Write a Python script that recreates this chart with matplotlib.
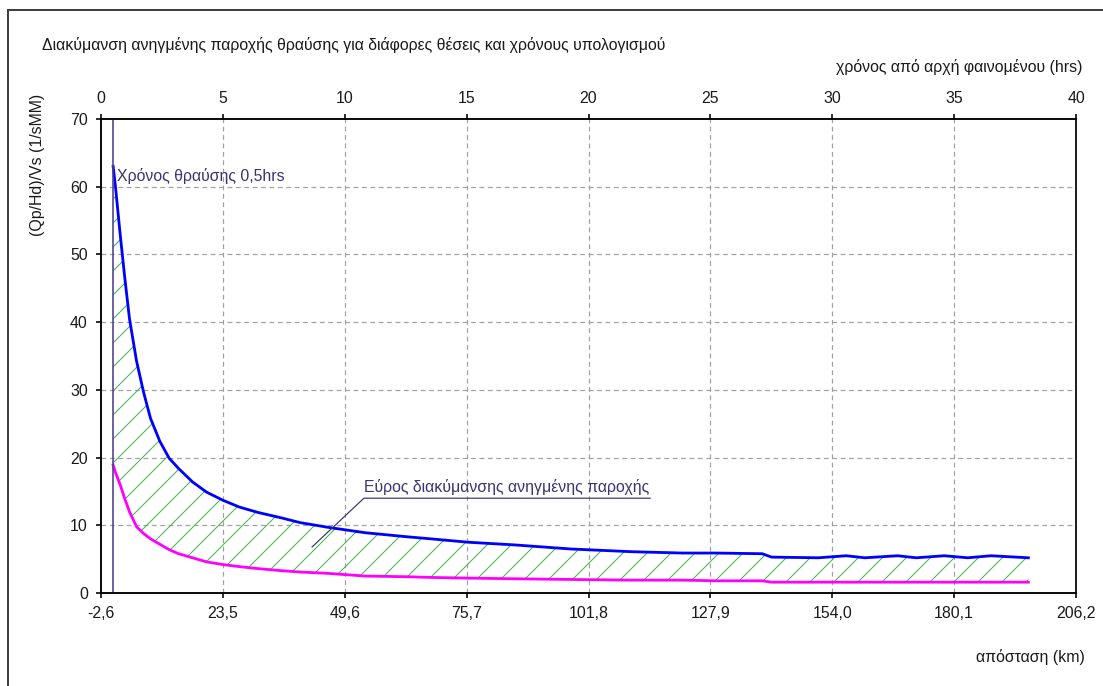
import numpy as np
import matplotlib
matplotlib.use("Agg")
import matplotlib.pyplot as plt
from matplotlib.patches import Rectangle

# distance along the river (km) and reduced peak flow range
dist_km = [0, 0.5, 1.5, 2.5, 3.5, 5, 6.5, 8, 10, 12, 14, 17, 20, 23.5, 27, 31,
           36, 40, 46, 54, 63, 68, 76, 86, 98, 111, 122, 129, 139, 141, 151,
           157, 161, 168, 172, 178, 183, 188, 196]
q_upper = [63, 60, 53, 46.5, 40.5, 34.3, 29.7, 25.8, 22.4, 19.9, 18.4, 16.4,
           14.9, 13.7, 12.7, 11.9, 11.1, 10.4, 9.7, 8.9, 8.3, 8.0, 7.5, 7.1,
           6.5, 6.1, 5.9, 5.9, 5.8, 5.3, 5.2, 5.5, 5.2, 5.5, 5.2, 5.5, 5.2,
           5.5, 5.2]
q_lower = [18.9, 17.8, 16.0, 13.9, 12.0, 9.8, 8.8, 8.0, 7.2, 6.4, 5.8, 5.2,
           4.6, 4.2, 3.9, 3.6, 3.3, 3.1, 2.9, 2.5, 2.4, 2.3, 2.2, 2.1, 2.0,
           1.9, 1.9, 1.8, 1.8, 1.6, 1.6, 1.6, 1.6, 1.6, 1.6, 1.6, 1.6, 1.6,
           1.6]

break_time = 0.5  # hrs
x_ticks = [-2.6, 23.5, 49.6, 75.7, 101.8, 127.9, 154.0, 180.1, 206.2]
x_ticklabels = ["-2,6", "23,5", "49,6", "75,7", "101,8", "127,9", "154,0",
                "180,1", "206,2"]
t_ticks = [0, 5, 10, 15, 20, 25, 30, 35, 40]
y_ticks = [0, 10, 20, 30, 40, 50, 60, 70]

plt.rcParams['font.family'] = ['Liberation Sans', 'DejaVu Sans']
plt.rcParams['hatch.linewidth'] = 0.5

W, H, DPI = 1103, 686, 144
fig = plt.figure(figsize=(W / DPI, H / DPI), dpi=DPI)
fig.patch.set_facecolor('white')

# outer chart border
fig.add_artist(Rectangle((8 / W, -0.1), 1.2, (H - 10) / H + 0.1,
                         transform=fig.transFigure, fill=False,
                         edgecolor='#404040', lw=1.0))

left, right, top, bottom = 101, 1076, 119, 593
ax = fig.add_axes([left / W, (H - bottom) / H, (right - left) / W,
                   (bottom - top) / H])

fs = 7.95
txt = '#1a1a1a'
navy = '#3b3470'
green = '#3cb44b'

ax.fill_between(dist_km, q_lower, q_upper, facecolor='none',
                edgecolor=green, hatch='//', linewidth=0)
ax.plot(dist_km, q_upper, color='#0000ff', lw=1.4)
ax.plot(dist_km, q_lower, color='#ff00ff', lw=1.4)

ax.set_xlim(x_ticks[0], x_ticks[-1])
ax.set_ylim(0, 70)
ax.set_xticks(x_ticks)
ax.set_xticklabels(x_ticklabels)
ax.set_yticks(y_ticks)

for xv in x_ticks[1:-1]:
    ax.axvline(xv, color='#a0a0a0', lw=0.6, ls=(0, (4, 3)), zorder=0)
for yv in y_ticks[1:-1]:
    ax.axhline(yv, color='#a0a0a0', lw=0.6, ls=(0, (4, 3)), zorder=0)

ax.tick_params(direction='out', length=2.6, width=0.8, labelsize=fs,
               labelcolor=txt, pad=4)
for s in ['left', 'bottom', 'top']:
    ax.spines[s].set_color('#202020')
    ax.spines[s].set_linewidth(0.8)
ax.spines['right'].set_color('#909090')
ax.spines['right'].set_linewidth(0.8)

# time axis on top
ax2 = ax.twiny()
ax2.set_xlim(t_ticks[0], t_ticks[-1])
ax2.set_xticks(t_ticks)
ax2.tick_params(direction='out', length=2.6, width=0.8, labelsize=fs,
                labelcolor=txt, pad=4)
ax2.axvline(break_time, color='#4b3f8c', lw=0.8)

ax.text(0.8, 61.6, "Χρόνος θραύσης 0,5hrs", color=navy, fontsize=fs,
        va='center', ha='left')

# annotation of the hatched range
ax.plot([42.6, 53.7, 115], [6.8, 14.0, 14.0], color=navy, lw=0.6)
ax.text(84.3, 14.5, "Εύρος διακύμανσης ανηγμένης παροχής", color=navy,
        fontsize=fs, ha='center', va='bottom')

fig.text(42 / W, 1 - 45 / H,
         "Διακύμανση ανηγμένης παροχής θραύσης για διάφορες θέσεις και χρόνους υπολογισμού",
         fontsize=fs, color=txt, ha='left', va='center')
fig.text(1083 / W, 1 - 67 / H, "χρόνος από αρχή φαινομένου (hrs)",
         fontsize=fs, color=txt, ha='right', va='center')
fig.text(1085 / W, 1 - 657 / H, "απόσταση (km)", fontsize=fs, color=txt,
         ha='right', va='center')
fig.text(38 / W, 1 - 165 / H, "(Qp/Hd)/Vs (1/sMM)", fontsize=fs, color=txt,
         ha='center', va='center', rotation=90)

fig.savefig("out.png", dpi=DPI)
